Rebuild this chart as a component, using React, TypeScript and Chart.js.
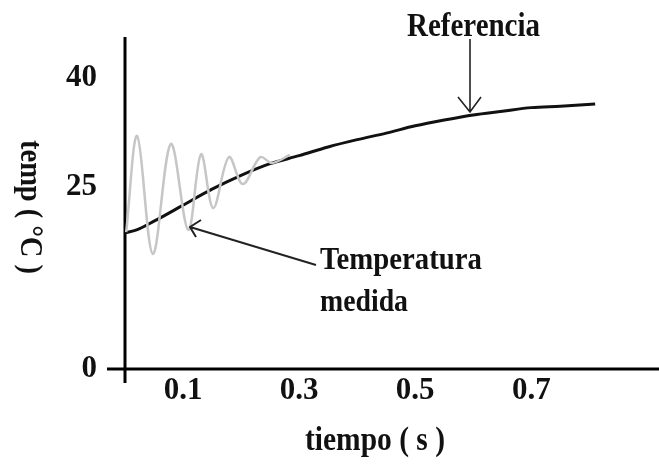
import React, { useEffect, useRef } from 'react';
import { Chart, registerables } from 'chart.js';

Chart.register(...registerables);

// Curva de referencia (negra)
const TIME_REF = [0, 0.02, 0.05, 0.1, 0.15, 0.2, 0.25, 0.3, 0.35, 0.4, 0.45, 0.5, 0.55, 0.6, 0.65, 0.7, 0.75, 0.81];
const TEMP_REF = [18.7, 19.1, 20.3, 22.5, 24.7, 26.6, 28.2, 29.3, 30.5, 31.5, 32.4, 33.4, 34.2, 34.9, 35.4, 35.9, 36.1, 36.4];

// Temperatura medida (gris, oscilante)
const TIME_MEAS = [0.002, 0.021, 0.048, 0.079, 0.109, 0.131, 0.152, 0.179, 0.203, 0.233, 0.253, 0.284];
const TEMP_MEAS = [18.8, 32.0, 15.8, 30.9, 19.1, 29.5, 22.1, 29.1, 25.4, 29.1, 28.3, 29.4];

const X_TICKS = [0.1, 0.3, 0.5, 0.7];
const Y_TICKS = [0, 25, 40];

const X_TITLE = 'tiempo ( s )';
const Y_TITLE = 'temp ( °C )';
const LABEL_REF = 'Referencia';
const LABEL_MEAS_1 = 'Temperatura';
const LABEL_MEAS_2 = 'medida';

const FONT = '"Liberation Serif", "Times New Roman", serif';

function stretchedText(ctx: CanvasRenderingContext2D, text: string, x: number, y: number, width: number, size: number, rotate = 0) {
  ctx.save();
  ctx.font = `bold ${size}px ${FONT}`;
  const w = ctx.measureText(text).width;
  ctx.translate(x, y);
  if (rotate) ctx.rotate(rotate);
  ctx.scale(width / w, 1);
  ctx.textAlign = 'left';
  ctx.textBaseline = 'alphabetic';
  ctx.fillStyle = '#111';
  ctx.fillText(text, 0, 0);
  ctx.restore();
}

const decorPlugin = {
  id: 'decor',
  beforeDatasetsDraw(chart: any) {
    const ctx: CanvasRenderingContext2D = chart.ctx;
    const xs = chart.scales.x;
    const ys = chart.scales.y;
    const x0 = xs.getPixelForValue(0);
    const y0 = ys.getPixelForValue(0);
    ctx.save();
    ctx.strokeStyle = '#000';
    ctx.lineWidth = 3;
    ctx.lineCap = 'butt';
    ctx.beginPath();
    ctx.moveTo(x0 - 18, y0);
    ctx.lineTo(chart.width, y0);
    ctx.moveTo(x0, chart.chartArea.top);
    ctx.lineTo(x0, y0 + 14);
    ctx.stroke();
    ctx.restore();
  },
  afterDraw(chart: any) {
    const ctx: CanvasRenderingContext2D = chart.ctx;
    ctx.save();
    // Arrow to reference curve
    ctx.strokeStyle = '#222';
    ctx.lineWidth = 1.6;
    ctx.beginPath();
    ctx.moveTo(470, 39);
    ctx.lineTo(470, 112);
    ctx.moveTo(458, 97);
    ctx.lineTo(470, 112);
    ctx.lineTo(481, 97);
    ctx.stroke();
    // Arrow to measured curve
    ctx.lineWidth = 2;
    ctx.beginPath();
    ctx.moveTo(316, 265);
    ctx.lineTo(190, 227);
    ctx.moveTo(201, 220);
    ctx.lineTo(190, 227);
    ctx.lineTo(196, 237);
    ctx.stroke();
    ctx.restore();

    stretchedText(ctx, LABEL_REF, 407, 36, 133, 34);
    stretchedText(ctx, LABEL_MEAS_1, 320, 269, 162, 32);
    stretchedText(ctx, LABEL_MEAS_2, 320, 311, 88, 32);
    stretchedText(ctx, X_TITLE, 305, 450, 140, 33);
    stretchedText(ctx, Y_TITLE, 21, 140, 134, 32, Math.PI / 2);
  },
};

export default function App() {
  const ref = useRef<HTMLCanvasElement | null>(null);
  useEffect(() => {
    document.body.style.margin = '0';
    const canvas = ref.current;
    if (!canvas) return;
    const chart = new Chart(canvas, {
      type: 'scatter',
      data: {
        datasets: [
          {
            label: LABEL_MEAS_1,
            data: TIME_MEAS.map((t, i) => ({ x: t, y: TEMP_MEAS[i] })),
            showLine: true,
            borderColor: '#c6c6c6',
            borderWidth: 2.5,
            pointRadius: 0,
            tension: 0.35,
          },
          {
            label: LABEL_REF,
            data: TIME_REF.map((t, i) => ({ x: t, y: TEMP_REF[i] })),
            showLine: true,
            borderColor: '#111',
            borderWidth: 3,
            pointRadius: 0,
            cubicInterpolationMode: 'monotone',
          },
        ],
      },
      options: {
        responsive: false,
        animation: false,
        devicePixelRatio: 1,
        layout: { padding: { top: 37, right: 0, left: 0, bottom: 0 } },
        plugins: { legend: { display: false }, tooltip: { enabled: false } },
        scales: {
          x: {
            type: 'linear',
            min: 0,
            max: 0.92,
            grid: { display: false, drawTicks: false },
            border: { display: false },
            afterBuildTicks: (axis: any) => {
              axis.ticks = X_TICKS.map((v) => ({ value: v }));
            },
            afterFit: (axis: any) => {
              axis.height = 95;
              axis.paddingLeft = 0;
              axis.paddingRight = 0;
            },
            ticks: {
              padding: 3,
              maxRotation: 0,
              autoSkip: false,
              color: '#111',
              font: { family: FONT, size: 31, weight: 'bold' },
              callback: (v: any) => Number(v).toFixed(1),
            },
          },
          y: {
            type: 'linear',
            min: 0,
            max: 45.6,
            grid: { display: false, drawTicks: false },
            border: { display: false },
            afterBuildTicks: (axis: any) => {
              axis.ticks = Y_TICKS.map((v) => ({ value: v }));
            },
            afterFit: (axis: any) => {
              axis.width = 125;
              axis.paddingTop = 0;
              axis.paddingBottom = 0;
            },
            ticks: {
              padding: 28,
              autoSkip: false,
              color: '#111',
              font: { family: FONT, size: 31, weight: 'bold' },
              callback: (v: any) => String(v),
            },
          },
        },
      },
      plugins: [decorPlugin],
    } as any);
    return () => chart.destroy();
  }, []);
  return (
    <div style={{ width: 659, height: 464 }}>
      <canvas ref={ref} width={659} height={464} style={{ display: 'block', width: 659, height: 464 }} />
    </div>
  );
}
